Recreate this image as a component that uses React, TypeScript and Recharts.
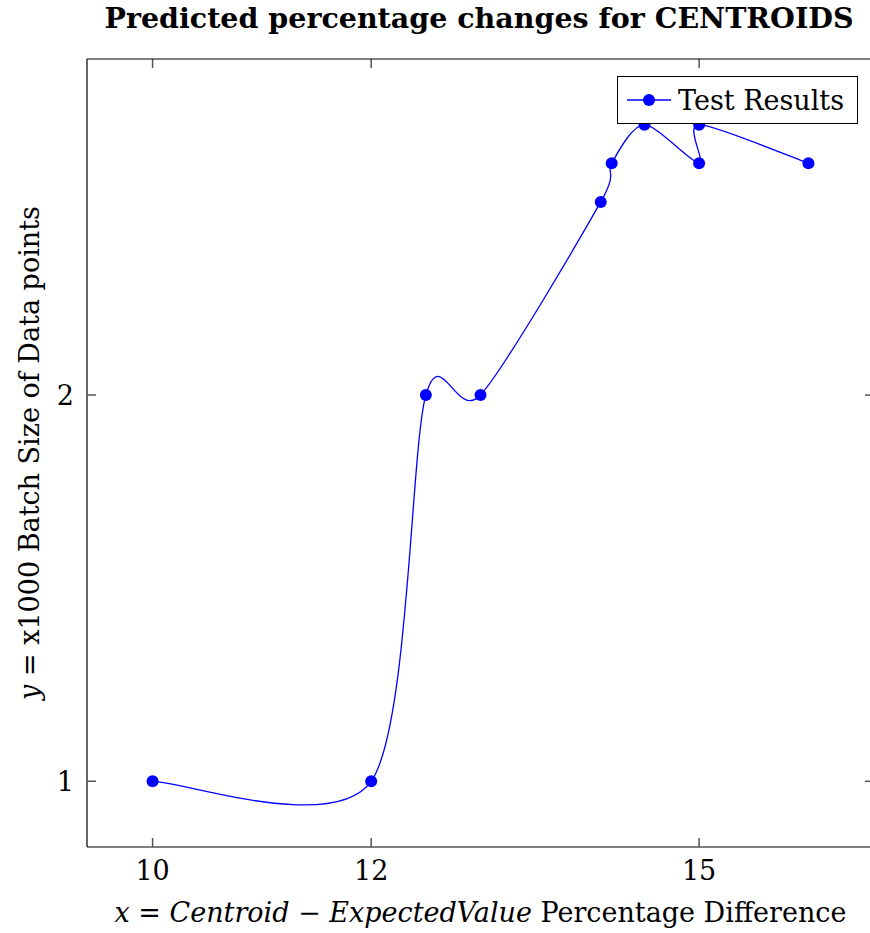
import React from 'react';
import { LineChart, Line, XAxis, YAxis, ReferenceLine } from 'recharts';

const xValues = [10, 12, 12.5, 13, 14.1, 14.2, 14.5, 15, 15, 16];
const yValues = [1, 1, 2, 2, 2.5, 2.6, 2.7, 2.6, 2.7, 2.6];
const xTicks = [10, 12, 15];
const yTicks = [1, 2];
const xDomain = [9.4, 16.6];
const yDomain = [0.83, 2.87];
const seriesName = 'Test Results';
const title = 'Predicted percentage changes for CENTROIDS';

const data = xValues.map((x, i) => ({ x, y: yValues[i] }));

const FONT = '"DejaVu Serif", serif';
const BLUE = '#0000ff';
const TICK_COLOR = '#555';
const TICK_LEN = 9;
const LABEL_GAP = 12;

// pgfplots "smooth" = cardinal spline, tension 0.55
const K = 0.55 / 4;

function pgfSmooth(context: any) {
  let pts: number[][] = [];
  return {
    areaStart() {},
    areaEnd() {},
    lineStart() {
      pts = [];
    },
    point(x: number, y: number) {
      pts.push([+x, +y]);
    },
    lineEnd() {
      const n = pts.length;
      if (!n) return;
      context.moveTo(pts[0][0], pts[0][1]);
      for (let i = 0; i < n - 1; i++) {
        const p0 = pts[Math.max(i - 1, 0)];
        const p1 = pts[i];
        const p2 = pts[i + 1];
        const p3 = pts[Math.min(i + 2, n - 1)];
        context.bezierCurveTo(
          p1[0] + K * (p2[0] - p0[0]),
          p1[1] + K * (p2[1] - p0[1]),
          p2[0] - K * (p3[0] - p1[0]),
          p2[1] - K * (p3[1] - p1[1]),
          p2[0],
          p2[1]
        );
      }
    },
  };
}

const axisStroke = { stroke: '#000', strokeWidth: 1.2 };

// mirrored ticks on the top / right frame (far end of a reference line)
function FarTick(props: any) {
  const { x1, y1, x2, y2 } = props;
  if (Math.abs(Number(x1) - Number(x2)) < 0.01) {
    const b = Number(y2);
    return <path d={`M${x2},${b}V${b + TICK_LEN}`} stroke={TICK_COLOR} strokeWidth={1.5} fill="none" />;
  }
  const b = Number(x2);
  return <path d={`M${b},${y1}H${b - TICK_LEN}`} stroke={TICK_COLOR} strokeWidth={1.5} fill="none" />;
}

// inward tick: start at the label anchor, dash pattern skips the label gap
function BottomTick(props: any) {
  const { x, y, payload } = props;
  const yy = Number(y);
  return (
    <g>
      <path
        d={`M${x},${yy}V${yy - LABEL_GAP - TICK_LEN}`}
        stroke={TICK_COLOR}
        strokeWidth={1.5}
        strokeDasharray={`0 ${LABEL_GAP} ${TICK_LEN} 100`}
        fill="none"
      />
      <text x={x} y={yy + 21} textAnchor="middle" fontFamily={FONT} fontSize={27} fill="#000">
        {payload.value}
      </text>
    </g>
  );
}

function LeftTick(props: any) {
  const { x, y, payload } = props;
  const xx = Number(x);
  return (
    <g>
      <path
        d={`M${xx},${y}H${xx + LABEL_GAP + TICK_LEN}`}
        stroke={TICK_COLOR}
        strokeWidth={1.5}
        strokeDasharray={`0 ${LABEL_GAP} ${TICK_LEN} 100`}
        fill="none"
      />
      <text x={xx - 1} y={Number(y) + 10} textAnchor="end" fontFamily={FONT} fontSize={27} fill="#000">
        {payload.value}
      </text>
    </g>
  );
}

function XLabel(props: any) {
  const { viewBox } = props;
  const cx = viewBox.x + viewBox.width / 2;
  return (
    <text x={cx} y={922} textAnchor="middle" fontFamily={FONT} fontSize={27} fill="#000">
      <tspan fontStyle="italic">x</tspan>
      <tspan> = </tspan>
      <tspan fontStyle="italic">Centroid</tspan>
      <tspan> − </tspan>
      <tspan fontStyle="italic">ExpectedValue</tspan>
      <tspan> Percentage Difference</tspan>
    </text>
  );
}

function YLabel(props: any) {
  const { viewBox } = props;
  const cy = viewBox.y + viewBox.height / 2;
  return (
    <text x={39} y={cy} transform={`rotate(-90 39 ${cy})`} textAnchor="middle" fontFamily={FONT} fontSize={27} fill="#000">
      <tspan fontStyle="italic">y</tspan>
      <tspan> = x1000 Batch Size of Data points</tspan>
    </text>
  );
}

export default function App() {
  return (
    <div style={{ position: 'absolute', left: 0, top: 0, width: 870, height: 933, overflow: 'hidden', background: '#fff' }}>
      <div style={{ position: 'absolute', left: 0, width: 958, top: 0, textAlign: 'center', fontFamily: FONT, fontWeight: 'bold', fontSize: 28.5, lineHeight: '36px', color: '#000' }}>
        {title}
      </div>
      <LineChart width={880} height={933} data={data} margin={{ top: 58, right: 5, left: 0, bottom: 0 }}>
        <XAxis dataKey="x" type="number" domain={xDomain} ticks={xTicks} allowDataOverflow height={86} tickSize={0} tickMargin={LABEL_GAP} axisLine={axisStroke} tickLine={false} tick={<BottomTick />} label={<XLabel />} />
        <XAxis xAxisId="top" orientation="top" type="number" domain={xDomain} ticks={xTicks} allowDataOverflow height={1} tickSize={0} axisLine={axisStroke} tickLine={false} tick={false} />
        <YAxis type="number" domain={yDomain} ticks={yTicks} allowDataOverflow width={87} tickSize={0} tickMargin={LABEL_GAP} axisLine={axisStroke} tickLine={false} tick={<LeftTick />} label={<YLabel />} />
        <YAxis yAxisId="right" orientation="right" type="number" domain={yDomain} ticks={yTicks} allowDataOverflow width={1} tickSize={0} axisLine={axisStroke} tickLine={false} tick={false} />
        {xTicks.map((t) => (
          <ReferenceLine key={`xt${t}`} x={t} shape={<FarTick />} />
        ))}
        {yTicks.map((t) => (
          <ReferenceLine key={`yt${t}`} y={t} shape={<FarTick />} />
        ))}
        <Line dataKey="y" name={seriesName} type={pgfSmooth as any} stroke={BLUE} strokeWidth={1.3} dot={{ r: 6, fill: BLUE, stroke: 'none' }} activeDot={false} isAnimationActive={false} />
      </LineChart>
      <div style={{ position: 'absolute', left: 617, top: 76, width: 239, height: 46, border: '1px solid #000', background: '#fff', display: 'flex', alignItems: 'center', fontFamily: FONT, fontSize: 27, color: '#000' }}>
        <svg width={60} height={46} style={{ display: 'block' }}>
          <line x1={9} y1={23} x2={53} y2={23} stroke={BLUE} strokeWidth={1.3} />
          <circle cx={31} cy={23} r={6} fill={BLUE} />
        </svg>
        <span>{seriesName}</span>
      </div>
    </div>
  );
}
